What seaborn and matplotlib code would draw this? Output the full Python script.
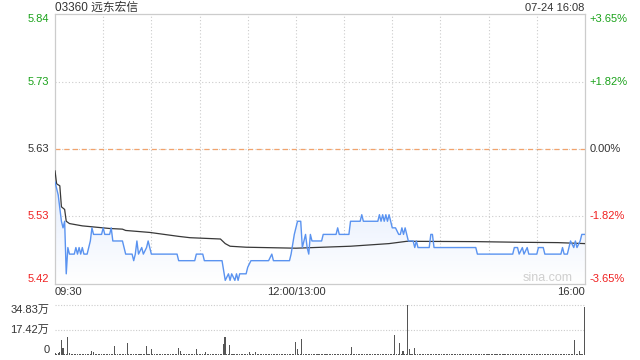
import numpy as np
import seaborn as sns
import matplotlib
matplotlib.use('Agg')
import matplotlib.pyplot as plt
from matplotlib.colors import LinearSegmentedColormap
from matplotlib.transforms import blended_transform_factory, offset_copy

# Data
title = '03360 远东宏信'
stamp = '07-24 16:08'
prev_close = 5.63
pct_levels = [3.65, 1.82, 0.00, -1.82, -3.65]
price_labels = ['5.84', '5.73', '5.63', '5.53', '5.42']
pct_labels = ['+3.65%', '+1.82%', '0.00%', '-1.82%', '-3.65%']
time_labels = ['09:30', '12:00/13:00', '16:00']
time_ticks = [0, 150, 330]

# minute since 09:30 (lunch removed) -> last price
price_min = [0, 1, 2, 3, 4, 5, 6, 7, 8, 9, 12, 13, 14, 15, 16, 17, 18, 20, 21, 22,
             23, 24, 29, 30, 31, 34, 35, 36, 42, 44, 48, 49, 50, 51, 52, 54, 55, 57, 58, 60,
             76, 77, 87, 88, 92, 93, 104, 106, 108, 109, 110, 112, 113, 114, 115, 119, 120, 122, 133, 135,
             136, 146, 147, 149, 151, 153, 154, 156, 157, 158, 159, 160, 166, 167, 175, 176, 177, 183, 184, 190,
             191, 192, 201, 202, 203, 204, 205, 206, 207, 208, 210, 212, 214, 215, 216, 217, 218, 219, 220, 223,
             224, 225, 226, 233, 234, 235, 236, 262, 263, 285, 286, 288, 289, 291, 292, 294, 295, 300, 301, 304,
             305, 315, 316, 317, 319, 320, 321, 323, 324, 325, 327, 328, 330]
price_val = [5.58, 5.57, 5.56, 5.54, 5.52, 5.51, 5.52, 5.44, 5.48, 5.47, 5.47, 5.48, 5.47, 5.48, 5.47, 5.48, 5.47, 5.47, 5.48, 5.49,
             5.51, 5.50, 5.50, 5.51, 5.50, 5.50, 5.51, 5.49, 5.49, 5.47, 5.47, 5.46, 5.47, 5.49, 5.47, 5.48, 5.47, 5.48, 5.49, 5.47,
             5.47, 5.46, 5.46, 5.47, 5.47, 5.46, 5.46, 5.43, 5.44, 5.43, 5.44, 5.43, 5.44, 5.43, 5.44, 5.44, 5.45, 5.46, 5.46, 5.47,
             5.46, 5.46, 5.47, 5.50, 5.52, 5.52, 5.48, 5.50, 5.48, 5.47, 5.50, 5.49, 5.49, 5.50, 5.50, 5.51, 5.50, 5.50, 5.52, 5.52,
             5.53, 5.52, 5.52, 5.53, 5.52, 5.53, 5.52, 5.53, 5.52, 5.53, 5.51, 5.51, 5.50, 5.50, 5.51, 5.50, 5.51, 5.50, 5.49, 5.49,
             5.48, 5.49, 5.48, 5.48, 5.50, 5.50, 5.48, 5.48, 5.47, 5.47, 5.48, 5.48, 5.47, 5.48, 5.47, 5.48, 5.47, 5.47, 5.48, 5.48,
             5.47, 5.47, 5.48, 5.47, 5.47, 5.48, 5.49, 5.48, 5.49, 5.48, 5.49, 5.50, 5.50]

# average price line
avg_min = [0, 1, 3, 4, 6, 7, 9, 17, 34, 42, 44, 59, 77, 84, 103, 106, 109, 119, 150, 184, 208, 219, 262, 290, 313, 330]
avg_val = [5.597, 5.577, 5.574, 5.542, 5.538, 5.520, 5.5165, 5.513, 5.509, 5.508, 5.506, 5.503, 5.497, 5.495,
           5.493, 5.486, 5.482, 5.4805, 5.479, 5.482, 5.486, 5.4895, 5.489, 5.488, 5.4875, 5.486]

# volume per minute, in 万 shares (minute 0..330)
volume = [
    1.2, 0.8, 1.5, 2.0, 10.4, 4.6, 1.0, 0.9, 12.8, 1.1, 0.6, 0.8, 0.5, 0.7, 0.9, 0.6, 0.8, 0.5, 0.7, 0.6, 0.9, 0.5, 1.0, 2.8, 2.1, 0.8, 0.6, 0.7, 0.5, 0.9,
    0.6, 0.8, 0.5, 0.7, 0.9, 0.6, 0.8, 6.5, 0.7, 0.5, 0.6, 0.8, 0.7, 0.5, 0.9, 8.6, 0.6, 0.7, 0.5, 0.8, 0.6, 0.7, 0.5, 0.9, 0.6, 0.8, 0.5, 6.5, 0.7, 0.6,
    4.2, 0.8, 0.5, 0.7, 0.6, 0.9, 0.5, 0.8, 0.6, 0.7, 0.5, 0.9, 0.6, 0.8, 0.5, 0.7, 0.6, 5.1, 2.8, 0.8, 0.5, 0.7, 0.9, 0.6, 0.8, 0.5, 0.7, 0.6, 4.2, 0.8,
    0.5, 0.7, 0.6, 0.9, 2.1, 0.5, 0.8, 0.6, 0.7, 0.5, 0.9, 0.6, 0.8, 0.5, 0.7, 7.9, 12.8, 0.6, 0.8, 7.0, 0.5, 0.7, 0.6, 0.9, 0.5, 0.8, 0.6, 0.7, 0.5, 0.9,
    0.6, 2.1, 0.8, 0.5, 0.7, 2.1, 0.6, 0.9, 0.5, 0.8, 0.6, 0.7, 0.5, 0.9, 0.6, 0.8, 0.5, 0.7, 0.6, 0.9, 0.5, 0.8, 0.6, 0.7, 0.5, 0.9, 0.6, 0.8, 0.5, 0.7,
    9.3, 4.2, 0.6, 0.8, 11.1, 0.7, 0.5, 0.9, 0.6, 0.8, 0.5, 0.7, 0.6, 0.9, 0.5, 0.8, 0.6, 0.7, 0.5, 0.9, 0.6, 0.8, 0.5, 0.7, 0.6, 0.9, 0.5, 0.8, 0.6, 0.7,
    0.5, 0.9, 0.6, 0.8, 0.5, 5.5, 0.7, 0.6, 0.9, 0.5, 0.8, 0.6, 0.7, 0.5, 0.9, 0.6, 0.8, 0.5, 0.7, 0.6, 0.9, 0.5, 0.8, 0.6, 0.7, 0.5, 0.9, 0.6, 0.8, 0.5,
    0.7, 0.6, 13.9, 0.9, 0.5, 8.3, 0.8, 3.0, 0.6, 0.7, 34.83, 4.0, 0.5, 0.9, 4.6, 0.6, 0.8, 0.5, 0.7, 0.6, 0.9, 0.5, 0.8, 0.6, 0.7, 0.5, 0.9, 0.6, 0.8, 0.5,
    0.7, 0.6, 0.9, 0.5, 0.8, 0.6, 0.7, 0.5, 0.9, 0.6, 0.8, 0.5, 0.7, 0.6, 0.9, 0.5, 0.8, 0.6, 0.7, 0.5, 0.9, 0.6, 0.8, 0.5, 0.7, 0.6, 0.9, 0.5, 0.8, 0.6,
    0.7, 0.5, 0.9, 0.6, 0.8, 0.5, 0.7, 0.6, 0.9, 0.5, 0.8, 0.6, 0.7, 0.5, 0.9, 0.6, 0.8, 0.5, 0.7, 0.6, 0.9, 0.5, 0.8, 0.6, 0.7, 0.5, 0.9, 0.6, 0.8, 0.5,
    0.7, 0.6, 0.9, 0.5, 0.8, 0.6, 0.7, 0.5, 0.9, 0.6, 0.8, 0.5, 0.7, 0.6, 0.9, 0.5, 0.8, 0.6, 0.7, 0.5, 0.9, 0.6, 0.8, 0.5, 10.4, 0.6, 0.8, 2.5, 0.7, 0.9,
    33.5,
]
vol_ticks = [34.83, 17.42, 0]
vol_labels = ['34.83万', '17.42万', '0']

sns.set_style('white')
plt.rcParams['font.family'] = ['Liberation Sans', 'Noto Sans CJK SC', 'DejaVu Sans']

GREEN = '#1aa21a'
RED = '#f02020'
DARK = '#333333'
GRID = '#cccccc'
LINE = '#5a93f0'

levels = [prev_close * (1 + p / 100) for p in pct_levels]
ymax, ymin = levels[0], levels[-1]
label_colors = [GREEN, GREEN, DARK, RED, RED]

fig = plt.figure(figsize=(6.4, 3.6), dpi=100)
ax = fig.add_axes([55 / 640, 1 - 284 / 360, 530 / 640, 270 / 360])
axv = fig.add_axes([55 / 640, 5 / 360, 530 / 640, 50 / 360])

# grid
for m in range(30, 330, 30):
    ax.axvline(m, color=GRID, lw=0.8, ls=(0, (1, 2)), zorder=0)
for lv in levels[1:-1]:
    ax.axhline(lv, color=GRID, lw=0.8, ls=(0, (1, 2)), zorder=0)
ax.axhline(prev_close, color='#f2a36c', lw=0.9, ls=(0, (4, 3)), zorder=1)

# gradient fill under the price line
poly = ax.fill_between(price_min, price_val, ymin, color='none', lw=0)
cmap = LinearSegmentedColormap.from_list('fade', ['#ffffff', '#e4edfd'])
grad = np.linspace(0, 1, 256).reshape(-1, 1)
im = ax.imshow(grad, extent=[0, 330, ymin, max(price_val)], aspect='auto',
               cmap=cmap, origin='lower', zorder=1)
im.set_clip_path(poly.get_paths()[0], transform=ax.transData)

sns.lineplot(x=avg_min, y=avg_val, ax=ax, color='#383838', linewidth=0.9, zorder=3)
sns.lineplot(x=price_min, y=price_val, ax=ax, color=LINE, linewidth=1.0, zorder=4)

ax.set_xlim(0, 330)
ax.set_ylim(ymin, ymax)
ax.set_xticks([])
ax.set_yticks([])
ax.set_xlabel('')
ax.set_ylabel('')
for s in ax.spines.values():
    s.set_color(GRID)
    s.set_linewidth(0.9)

# y labels on both sides
tl = offset_copy(blended_transform_factory(ax.transAxes, ax.transData), fig=fig, x=-4, y=0, units='points')
tr = offset_copy(blended_transform_factory(ax.transAxes, ax.transData), fig=fig, x=3.5, y=0, units='points')
vas = ['top', 'center', 'center', 'center', 'bottom']
for lv, pl, pc, c, va in zip(levels, price_labels, pct_labels, label_colors, vas):
    ax.text(0, lv, pl, transform=tl, ha='right', va=va, color=c, fontsize=8)
    ax.text(1, lv, pc, transform=tr, ha='left', va=va, color=c, fontsize=8)

# time labels
tt = offset_copy(blended_transform_factory(ax.transData, ax.transAxes), fig=fig, x=0, y=-2, units='points')
for t, lab, ha in zip(time_ticks, time_labels, ['left', 'center', 'right']):
    ax.text(t, 0, lab, transform=tt, ha=ha, va='top', color=DARK, fontsize=8)

ax.text(322.5, ymin, 'sina.com', ha='right', va='bottom', color='#cfcfcf', fontsize=9)

fig.text(55 / 640, 1 - 8 / 360, title, ha='left', va='center', color=DARK, fontsize=8.5)
fig.text(584 / 640, 1 - 8 / 360, stamp, ha='right', va='center', color=DARK, fontsize=8)

# volume
axv.bar(range(len(volume)), volume, width=0.65, color='#555555', linewidth=0)
axv.set_xlim(0, 330.5)
axv.set_ylim(0, vol_ticks[0])
axv.set_xticks([])
axv.set_yticks([])
for s in axv.spines.values():
    s.set_visible(False)
for v in vol_ticks[:-1]:
    axv.axhline(v, color=GRID, lw=0.8, ls=(0, (1, 1.5)), zorder=0, clip_on=False)
tv = offset_copy(blended_transform_factory(axv.transAxes, axv.transData), fig=fig, x=-4, y=0, units='points')
for v, lab, va in zip(vol_ticks, vol_labels, ['top', 'center', 'bottom']):
    axv.text(0, v, lab, transform=tv, ha='right', va=va, color=DARK, fontsize=8)

fig.savefig('out.png', dpi=100)
